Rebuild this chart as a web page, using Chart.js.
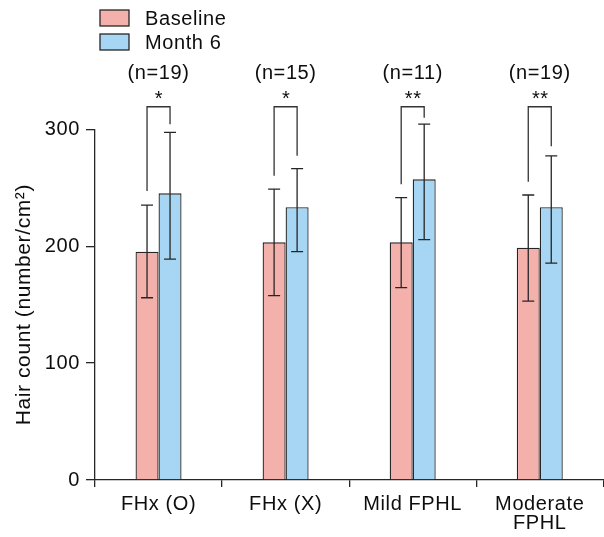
<!DOCTYPE html>
<html><head><meta charset="utf-8">
<script src="https://cdn.jsdelivr.net/npm/chart.js@4.4.0/dist/chart.umd.min.js"></script>
<style>html,body{margin:0;padding:0;background:#fff}#wrap{width:604px;height:537px;position:relative}</style>
</head><body><div id="wrap"><canvas id="c" width="604" height="537"></canvas></div>
<script>
const categories = ['FHx (O)', 'FHx (X)', 'Mild FPHL', ['Moderate', 'FPHL']];
const seriesNames = ['Baseline', 'Month 6'];
const baseline = [195.3, 203.3, 203.3, 198.7];
const month6 = [245.2, 233.3, 257.2, 233.3];
const baselineErrLow = [155.9, 157.7, 164.5, 153.1];
const baselineErrHigh = [235.2, 248.9, 241.5, 243.8];
const month6ErrLow = [189.0, 195.3, 205.6, 185.6];
const month6ErrHigh = [297.4, 266.3, 304.5, 277.2];
const sampleSizes = ['(n=19)', '(n=15)', '(n=11)', '(n=19)'];
const significance = ['*', '*', '**', '**'];
const bracketTop = [319.3, 319.3, 319.3, 319.3];
const bracketLeftEnd = [247.2, 260.3, 252.9, 255.2];
const bracketRightEnd = [304.3, 277.4, 309.9, 285.4];
const yTicks = [0, 100, 200, 300];

const FONT = "'Liberation Sans', Arial, Helvetica, sans-serif";
const INK = '#0d0d0d';
const LINE = '#262626';
const colors = ['#f4b1ac', '#a6d6f3'];
const errLow = [baselineErrLow, month6ErrLow];
const errHigh = [baselineErrHigh, month6ErrHigh];

function spacing(chart) { try { chart.ctx.letterSpacing = '0.6px'; } catch (e) {} }

const overlay = {
  id: 'overlay',
  beforeUpdate: spacing,
  beforeLayout: spacing,
  beforeDraw: spacing,
  afterDatasetsDraw(chart) {
    const ctx = chart.ctx, ys = chart.scales.y;
    ctx.save();
    ctx.strokeStyle = LINE; ctx.lineWidth = 1.3;
    [0, 1].forEach(d => {
      const meta = chart.getDatasetMeta(d);
      meta.data.forEach((el, j) => {
        const x = el.x, y1 = ys.getPixelForValue(errLow[d][j]), y2 = ys.getPixelForValue(errHigh[d][j]);
        ctx.beginPath();
        ctx.moveTo(x, y1); ctx.lineTo(x, y2);
        ctx.moveTo(x - 6, y1); ctx.lineTo(x + 6, y1);
        ctx.moveTo(x - 6, y2); ctx.lineTo(x + 6, y2);
        ctx.stroke();
      });
    });
    ctx.restore();
  },
  afterDraw(chart) {
    const ctx = chart.ctx, ys = chart.scales.y;
    const m0 = chart.getDatasetMeta(0), m1 = chart.getDatasetMeta(1);
    ctx.save();
    spacing(chart);
    ctx.strokeStyle = '#333'; ctx.lineWidth = 1.3;
    ctx.fillStyle = INK;
    categories.forEach((c, j) => {
      const xl = m0.data[j].x, xr = m1.data[j].x;
      const yt = ys.getPixelForValue(bracketTop[j]);
      ctx.beginPath();
      ctx.moveTo(xl, ys.getPixelForValue(bracketLeftEnd[j]));
      ctx.lineTo(xl, yt); ctx.lineTo(xr, yt);
      ctx.lineTo(xr, ys.getPixelForValue(bracketRightEnd[j]));
      ctx.stroke();
      const cx = chart.scales.x.getPixelForValue(j);
      ctx.textAlign = 'center';
      ctx.textBaseline = 'alphabetic';
      ctx.font = '20px ' + FONT;
      ctx.fillText(significance[j], (xl + xr) / 2 + 0.5, yt - 1.5);
      ctx.textBaseline = 'middle';
      ctx.fillText(sampleSizes[j], cx, yt - 33.5);
    });
    // legend
    ctx.textAlign = 'left'; ctx.textBaseline = 'middle';
    ctx.font = '20px ' + FONT;
    seriesNames.forEach((n, i) => {
      const top = 10 + i * 24;
      ctx.fillStyle = colors[i];
      ctx.fillRect(100, top, 29, 16);
      ctx.strokeStyle = LINE; ctx.lineWidth = 1.3;
      ctx.strokeRect(100, top, 29, 16);
      ctx.fillStyle = INK;
      ctx.fillText(n, 145, top + 9);
    });
    ctx.restore();
  }
};

new Chart(document.getElementById('c'), {
  type: 'bar',
  data: {
    labels: categories,
    datasets: [
      { label: seriesNames[0], data: baseline, backgroundColor: colors[0], borderColor: LINE, borderWidth: 1.3, clip: false },
      { label: seriesNames[1], data: month6, backgroundColor: colors[1], borderColor: LINE, borderWidth: 1.3, clip: false }
    ]
  },
  options: {
    responsive: false,
    animation: false,
    events: [],
    categoryPercentage: 0.362,
    barPercentage: 1.0,
    layout: { padding: { top: 129.3, right: 0.7, left: 0, bottom: 0 } },
    plugins: { legend: { display: false }, tooltip: { enabled: false } },
    scales: {
      x: {
        ticks: { color: INK, font: { size: 20, family: FONT, lineHeight: 0.95 }, padding: 8, maxRotation: 0, autoSkip: false },
        grid: { offset: true, drawOnChartArea: false, tickLength: 7, color: LINE, lineWidth: 1.3 },
        border: { display: true, color: LINE, width: 1.3 },
        afterFit(s) { s.height = 57; }
      },
      y: {
        min: 0, max: 300,
        afterBuildTicks(s) { s.ticks = yTicks.map(v => ({ value: v })); },
        ticks: { color: INK, font: { size: 20, family: FONT }, padding: 6 },
        grid: { drawOnChartArea: false, tickLength: 9, color: LINE, lineWidth: 1.3 },
        border: { display: true, color: LINE, width: 1.3 },
        title: { display: true, text: 'Hair count (number/cm²)', color: INK, font: { size: 21, family: FONT }, padding: { top: 12, bottom: 0 } },
        afterFit(s) { s.width = 95; }
      }
    }
  },
  plugins: [overlay]
});
</script>
</body></html>
